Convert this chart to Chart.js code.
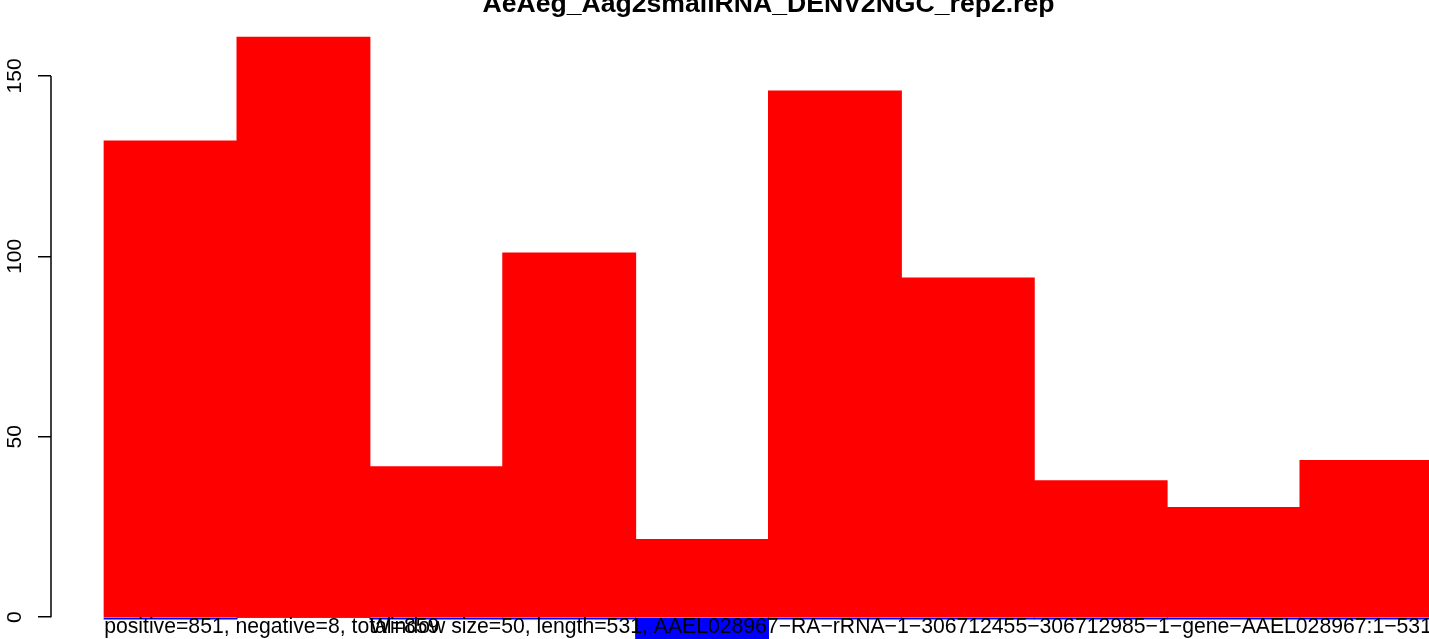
<!DOCTYPE html>
<html>
<head>
<meta charset="utf-8">
<title>AeAeg_Aag2smallRNA_DENV2NGC_rep2.rep</title>
<script src="https://cdn.jsdelivr.net/npm/chart.js@4.4.1/dist/chart.umd.min.js"></script>
<style>
  html, body { margin: 0; padding: 0; background: #fff; overflow: hidden; }
  #frame { width: 1429px; height: 639px; overflow: hidden; position: relative; }
  #plot { display: block; }
</style>
</head>
<body>
<div id="frame"><canvas id="plot" width="1540" height="700"></canvas></div>
<script>
const mainTitle = 'AeAeg_Aag2smallRNA_DENV2NGC_rep2.rep';
const summaryText = 'positive=851, negative=8, total=859';
const windowText = 'Window size=50, length=531, AAEL028967\u2212RA\u2212rRNA\u22121\u2212306712455\u2212306712985\u22121\u2212gene\u2212AAEL028967:1\u2212531';

// reads per 50 nt window: sense strand up (red), antisense down (blue)
const windows = [1, 2, 3, 4, 5, 6, 7, 8, 9, 10];
const positive = [132, 160.7, 41.7, 100.9, 21.5, 145.8, 94, 37.8, 30.4, 43.4];
const negative = [-0.5, 0, -0.5, -0.5, -6, -0.5, -0.5, -0.5, -0.5, -0.5];
const yTicks = [0, 50, 100, 150];

const FONT = '"Liberation Sans", Arial, Helvetica, sans-serif';

// window i occupies [i-1, i] on the x scale
const toPoints = vals => vals.map((v, i) => ({ x: windows[i] - 0.5, y: v }));

// R-style axis: line only between first and last tick, rotated labels, texts
const baseAxis = {
    id: 'baseAxis',
    afterDatasetsDraw(chart) {
        const { ctx, chartArea, scales: { x, y } } = chart;
        ctx.save();
        ctx.strokeStyle = '#000';
        ctx.lineWidth = 1.5;
        ctx.beginPath();
        ctx.moveTo(chartArea.left, y.getPixelForValue(yTicks[0]));
        ctx.lineTo(chartArea.left, y.getPixelForValue(yTicks[yTicks.length - 1]));
        ctx.stroke();

        ctx.fillStyle = '#000';
        ctx.font = '21px ' + FONT;
        ctx.textAlign = 'center';
        ctx.textBaseline = 'alphabetic';
        yTicks.forEach(v => {
            ctx.save();
            ctx.translate(21, y.getPixelForValue(v));
            ctx.rotate(-Math.PI / 2);
            ctx.fillText(String(v), 0, 0);
            ctx.restore();
        });

        ctx.font = 'bold 26.6px ' + FONT;
        ctx.fillText(mainTitle, (chartArea.left + chartArea.right) / 2, 12);

        ctx.textAlign = 'left';
        ctx.font = '21.2px ' + FONT;
        ctx.fillText(summaryText, x.getPixelForValue(0), 633);
        ctx.fillText(windowText, x.getPixelForValue(2), 633);
        ctx.restore();
    }
};

const ctx = document.getElementById('plot').getContext('2d');
new Chart(ctx, {
    type: 'bar',
    data: {
        datasets: [
            {
                label: 'positive',
                data: toPoints(positive),
                backgroundColor: '#ff0000',
                borderWidth: 0,
                inflateAmount: 0.5,
                grouped: false,
                barPercentage: 1,
                categoryPercentage: 1,
            },
            {
                label: 'negative',
                data: toPoints(negative),
                backgroundColor: '#0000ff',
                borderWidth: 0,
                inflateAmount: 0.5,
                grouped: false,
                barPercentage: 1,
                categoryPercentage: 1,
            },
        ],
    },
    options: {
        responsive: false,
        animation: false,
        devicePixelRatio: 1,
        layout: {
            padding: { left: 0, right: 54, top: 11, bottom: 54 },
        },
        plugins: {
            legend: { display: false },
            tooltip: { enabled: false },
            title: { display: false },
        },
        scales: {
            x: {
                type: 'linear',
                display: false,
                offset: false,
                min: -0.4,
                max: 10.4,
                // window boundaries only, so bar width follows the window spacing
                afterBuildTicks: scale => {
                    scale.ticks = [0, ...windows].map(v => ({ value: v }));
                },
            },
            y: {
                type: 'linear',
                min: -8,
                max: 168,
                afterBuildTicks: scale => {
                    scale.ticks = yTicks.map(v => ({ value: v }));
                },
                afterFit: scale => {
                    scale.width = 51;
                },
                ticks: { display: false },
                border: { display: false },
                grid: {
                    drawOnChartArea: false,
                    drawTicks: true,
                    tickLength: 13,
                    color: '#000',
                    lineWidth: 1.5,
                },
            },
        },
    },
    plugins: [baseAxis],
});
</script>
</body>
</html>
